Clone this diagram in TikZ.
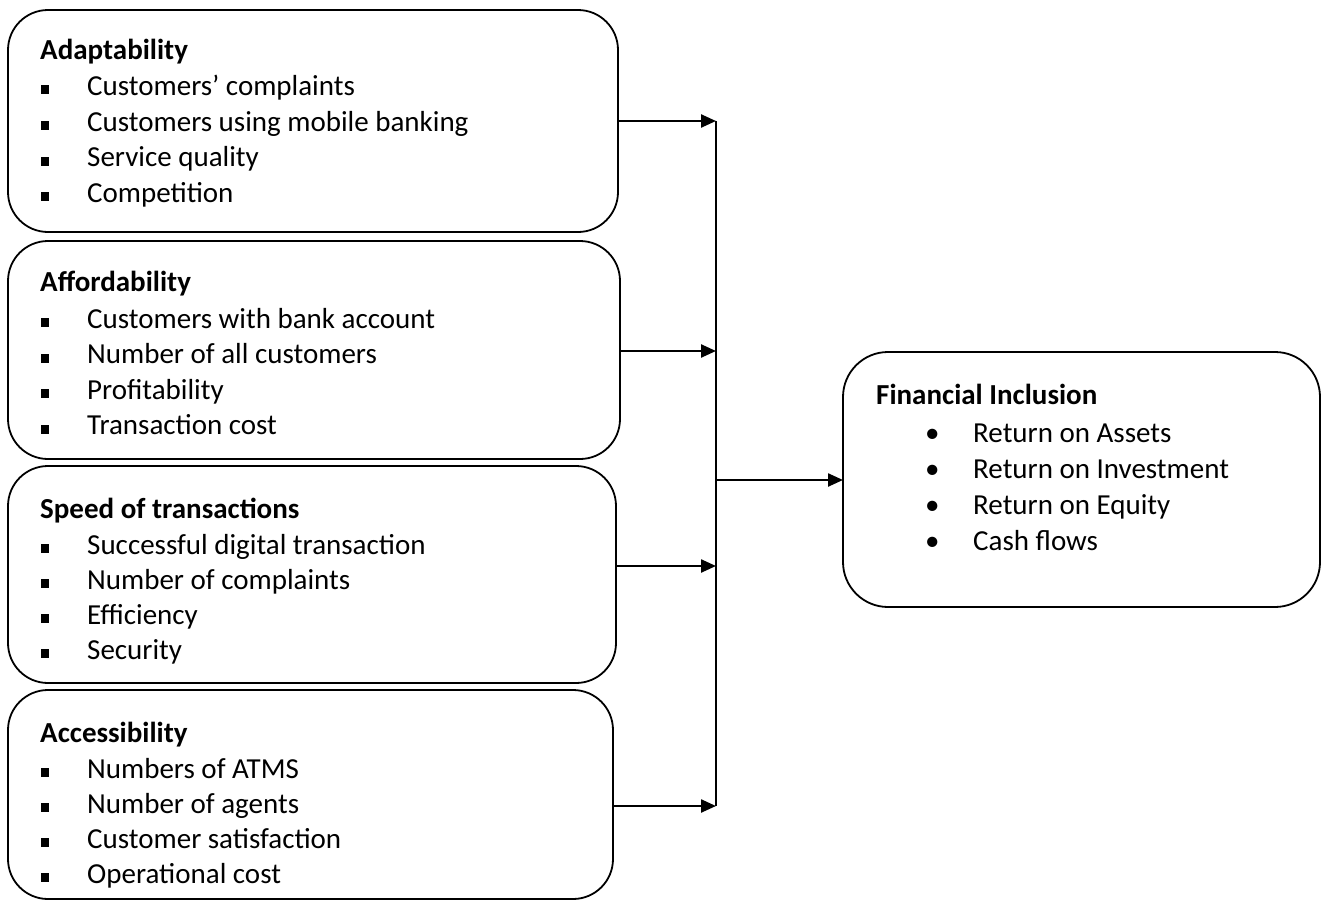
\documentclass[tikz,border=0pt]{standalone}
\usepackage{fontspec}
\setmainfont{Carlito}
\usetikzlibrary{arrows.meta}
% square list marker and the gap after it
\newcommand\sqmark{\makebox[46pt][l]{\rule[1pt]{8pt}{9pt}}}
% round list marker and the gap after it
\newcommand\rdmark{\makebox[48pt][l]{\textbullet}}
\begin{document}
\begin{tikzpicture}[x=1pt,y=-1pt,
  panel/.style={draw, line width=1.8pt, rounded corners=40pt, inner sep=0pt, outer sep=0pt},
  head/.style={anchor=base west, inner sep=0pt, font=\fontsize{29}{35}\selectfont\bfseries},
  item/.style={anchor=base west, inner sep=0pt, font=\fontsize{29}{35}\selectfont},
  feed/.style={line width=2.4pt, -{Triangle[length=15pt,width=13pt]}},
  bus/.style={line width=1.8pt}]
\useasboundingbox (0,0) rectangle (1322,902);

% factor panels
\node[panel, minimum width=610pt, minimum height=222pt] (adapt) at (313,121) {};
\node[panel, minimum width=612pt, minimum height=218pt] (afford) at (314,350) {};
\node[panel, minimum width=608pt, minimum height=217pt] (speed) at (312,574.5) {};
\node[panel, minimum width=605pt, minimum height=209pt] (access) at (310.5,794.5) {};
% outcome panel
\node[panel, rounded corners=45pt, minimum width=477pt, minimum height=255pt] (incl) at (1081.5,479.5) {};

% panel texts
\node[head] (t1) at (40,59) {Adaptability};
\node[item] (t1a) at (41,95) {\sqmark Customers’ complaints};
\node[item] (t1b) at (41,131) {\sqmark Customers using mobile banking};
\node[item] (t1c) at (41,166.5) {\sqmark Service quality};
\node[item] (t1d) at (41,202) {\sqmark Competition};

\node[head] (t2) at (40,291) {Affordability};
\node[item] (t2a) at (41,328) {\sqmark Customers with bank account};
\node[item] (t2b) at (41,363.5) {\sqmark Number of all customers};
\node[item] (t2c) at (41,399) {\sqmark Profitability};
\node[item] (t2d) at (41,434.5) {\sqmark Transaction cost};

\node[head] (t3) at (40,518) {Speed of transactions};
\node[item] (t3a) at (41,554) {\sqmark Successful digital transaction};
\node[item] (t3b) at (41,589) {\sqmark Number of complaints};
\node[item] (t3c) at (41,624) {\sqmark Efficiency};
\node[item] (t3d) at (41,659) {\sqmark Security};

\node[head] (t4) at (40,742) {Accessibility};
\node[item] (t4a) at (41,778) {\sqmark Numbers of ATMS};
\node[item] (t4b) at (41,813) {\sqmark Number of agents};
\node[item] (t4c) at (41,848) {\sqmark Customer satisfaction};
\node[item] (t4d) at (41,883) {\sqmark Operational cost};

\node[head] (t5) at (876,404) {Financial Inclusion};
\node[item] (t5a) at (925,442) {\rdmark Return on Assets};
\node[item] (t5b) at (925,478) {\rdmark Return on Investment};
\node[item] (t5c) at (925,514) {\rdmark Return on Equity};
\node[item] (t5d) at (925,550) {\rdmark Cash flows};

% collector line and its joints
\coordinate (j1) at (716,121);
\coordinate (j2) at (716,351);
\coordinate (j3) at (716,566);
\coordinate (j4) at (716,806);
\coordinate (jm) at (716,480);
\draw[bus] (j1) -- (j4);

% feeds into the collector
\draw[feed] (adapt.east |- j1) -- (j1);
\draw[feed] (afford.east |- j2) -- (j2);
\draw[feed] (speed.east |- j3) -- (j3);
\draw[feed] (access.east |- j4) -- (j4);
% collector to outcome
\draw[feed] (jm) -- (incl.west |- jm);
\end{tikzpicture}
\end{document}
